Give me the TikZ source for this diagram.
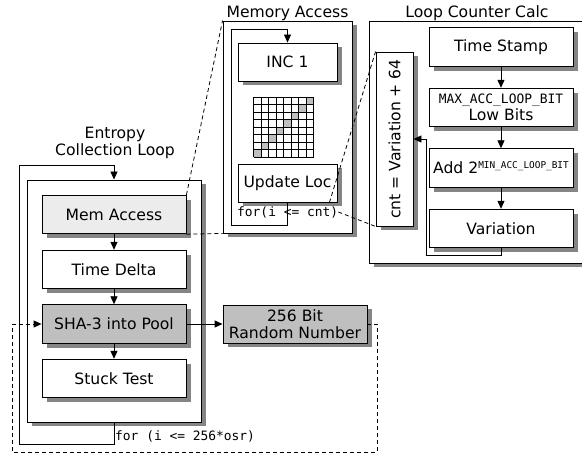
\documentclass[tikz,border=0pt]{standalone}
\usepackage{fontspec}
\setmainfont{DejaVu Sans}
\setmonofont{DejaVu Sans Mono}
\usetikzlibrary{arrows.meta}
\newcommand\mainsz{\fontsize{15.6}{17.5}\selectfont}
\newcommand\monosz{\fontsize{12.9}{15}\selectfont\ttfamily}
\newcommand\supsz{\fontsize{9.4}{10}\selectfont\ttfamily}
% shadowed box: name, x, y, width, height, extra style, text
\newcommand\shbox[7]{%
  \fill[shadowc] ({#2-#4/2+4.5},{#3-#5/2+4.5}) rectangle ({#2+#4/2+4.5},{#3+#5/2+4.5});
  \node[box,#6,minimum width=#4pt,minimum height=#5pt] (#1) at (#2,#3) {#7};}
\colorlet{shadowc}{black!48}
\begin{document}
\begin{tikzpicture}[x=1pt,y=-1pt,
  every node/.style={inner sep=0pt, font=\mainsz},
  box/.style={draw, line width=0.9pt, fill=white},
  arr/.style={line width=0.9pt, -{Triangle[length=8pt,width=7pt]}},
  zoomline/.style={line width=0.8pt, dash pattern=on 4pt off 3pt},
  gridline/.style={line width=0.8pt}]
\useasboundingbox (0,0) rectangle (582,454);

% ---------- Entropy collection loop ----------
\node[align=center] (etitle) at (115,143) {Entropy\\Collection Loop};
\shbox{eouter}{114}{301}{174}{242}{}{}
\shbox{mem}{114}{214.5}{144}{38.5}{fill=gray!15}{Mem Access}
\shbox{td}{114}{269.5}{144}{38.5}{}{Time Delta}
\shbox{sha}{114}{324}{144}{38.5}{fill=gray!50}{SHA-3 into Pool}
\shbox{stuck}{114}{378.5}{144}{38.5}{}{Stuck Test}
\shbox{rand}{295}{324}{144}{38}{fill=gray!50, align=center}{256 Bit\\Random Number}

\draw[arr] (mem) -- (td);
\draw[arr] (td) -- (sha);
\draw[arr] (sha) -- (stuck);
\draw[arr] (sha) -- (rand);

\coordinate (eBR) at (114,444);
\coordinate (eBL) at (19,444);
\coordinate (eTL) at (19,165);
\coordinate (eTR) at (114,165);
\draw[arr] (eouter.south) -- (eBR) -- (eBL) -- (eTL) -- (eTR) -- (eouter.north);
\node[anchor=west, font=\monosz] (efor) at (115,436) {for (i <= 256*osr)};

\coordinate (dR) at (377,324);
\coordinate (dRB) at (377,452);
\coordinate (dLB) at (12,452);
\coordinate (dL) at (12,324);
\draw[zoomline] (rand.east) -- (dR) -- (dRB) -- (dLB) -- (dL);
\draw[arr, dash pattern=on 4pt off 3pt] (dL) -- (sha.west);

% ---------- Memory access ----------
\node (matitle) at (287.5,13) {Memory Access};
\shbox{mabox}{287.5}{127}{129}{212}{}{}
\shbox{inc}{287.5}{62}{99}{38}{}{INC 1}
\shbox{upd}{287.5}{183}{99}{38}{}{Update Loc}
\foreach \r in {0,...,7}
  \fill[gray!50] ({253.5+(7-\r)*7.5},{97+\r*7.5}) rectangle ++(7.5,7.5);
\foreach \i in {0,...,8} {
  \draw[gridline] ({253.5+\i*7.5},97) -- ({253.5+\i*7.5},157);
  \draw[gridline] (253.5,{97+\i*7.5}) -- (313.5,{97+\i*7.5});
}
\coordinate (mBR) at (287.5,225);
\coordinate (mBL) at (231,225);
\coordinate (mTL) at (231,29);
\coordinate (mTR) at (287.5,29);
\draw[arr] (upd.south) -- (mBR) -- (mBL) -- (mTL) -- (mTR) -- (inc.north);
\node[anchor=west, font=\monosz] (mfor) at (237,212) {for(i <= cnt)};

% ---------- Loop counter calc ----------
\node (lctitle) at (477,13) {Loop Counter Calc};
\shbox{lcbox}{484.5}{142}{231}{242}{}{}
\shbox{ts}{501}{47}{144}{38.5}{}{Time Stamp}
\shbox{lb}{501}{107.5}{144}{38.5}{align=center}{{\monosz MAX\_ACC\_LOOP\_BIT}\\Low Bits}
\shbox{add}{501}{168}{144}{38.5}{}{Add 2\raisebox{5pt}{\supsz MIN\_ACC\_LOOP\_BIT}}
\shbox{var}{501}{228.5}{144}{38.5}{}{Variation}
\shbox{cnt}{394.5}{139}{37}{174}{}{}
\node[rotate=90] (cnttext) at (cnt.center) {cnt = Variation + 64};
\draw[arr] (ts) -- (lb);
\draw[arr] (lb) -- (add);
\draw[arr] (add) -- (var);
\coordinate (lBR) at (501,255);
\coordinate (lBL) at (426,255);
\coordinate (lTL) at (426,139);
\draw[arr] (var.south) -- (lBR) -- (lBL) -- (lTL) -- (cnt.east);

% ---------- zoom lines ----------
\draw[zoomline] (mem.north east) -- (mabox.north west);
\draw[zoomline] (mem.south east) -- (mabox.south west);
\draw[zoomline] ([xshift=-8pt]upd.south east) -- (cnt.north west);
\draw[zoomline] (mfor.east) -- (cnt.south west);
\end{tikzpicture}
\end{document}
